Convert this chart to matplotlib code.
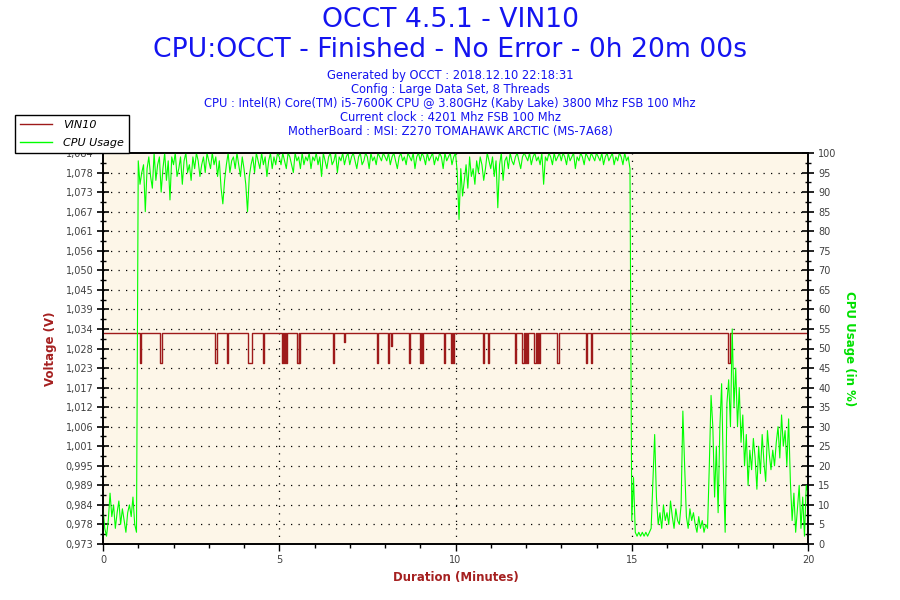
import numpy as np
import matplotlib.pyplot as plt
from matplotlib.ticker import FixedLocator, MultipleLocator, FuncFormatter

title_1 = "OCCT 4.5.1 - VIN10"
title_2 = "CPU:OCCT - Finished - No Error - 0h 20m 00s"
info_lines = [
    "Generated by OCCT : 2018.12.10 22:18:31",
    "Config : Large Data Set, 8 Threads",
    "CPU : Intel(R) Core(TM) i5-7600K CPU @ 3.80GHz (Kaby Lake) 3800 Mhz FSB 100 Mhz",
    "Current clock : 4201 Mhz FSB 100 Mhz",
    "MotherBoard : MSI: Z270 TOMAHAWK ARCTIC (MS-7A68)",
]

# CPU usage (%), one sample every 3 s -> 20 samples per minute
sample_step = 0.05
cpu_usage = [
    9, 4, 2, 6, 13, 7, 10, 4, 8, 11, 5, 9, 6, 3, 8, 10, 7, 12, 5, 3,
    98, 92, 95, 97, 85, 96, 99, 94, 91, 100, 93, 97, 99, 90, 96, 100, 93, 98, 88, 99,
    97, 100, 94, 96, 99, 92, 98, 100, 95, 97, 93, 99, 96, 100, 98, 94, 97, 99, 95, 100,
    98, 96, 100, 97, 99, 94, 98, 91, 87, 93, 97, 100, 95, 98, 99, 96, 100, 97, 94, 99,
    96, 92, 85, 94, 97, 99, 95, 100, 98, 96, 100, 97, 99, 94, 98, 100, 96, 99, 97, 100,
    99, 97, 100, 98, 96, 100, 99, 97, 95, 100, 98, 99, 96, 100, 97, 99, 98, 100, 96, 99,
    98, 100, 97, 99, 94, 100, 98, 96, 99, 100, 97, 98, 100, 95, 99, 98, 100, 97, 99, 100,
    97, 99, 100, 98, 96, 99, 100, 97, 98, 100, 99, 96, 100, 98, 99, 97, 100, 99, 98, 100,
    99, 98, 100, 97, 99, 100, 98, 96, 99, 100, 98, 99, 97, 100, 99, 98, 100, 96, 99, 100,
    98, 100, 99, 97, 100, 98, 99, 100, 97, 99, 98, 100, 99, 96, 100, 98, 99, 100, 97, 99,
    100, 95, 83, 96, 89, 93, 97, 91, 99, 94, 96, 92, 98, 95, 99, 97, 93, 96, 100, 98,
    96, 99, 94, 98, 86, 97, 100, 93, 98, 99, 96, 100, 98, 97, 99, 100, 98, 96, 99, 100,
    99, 98, 100, 97, 99, 100, 98, 99, 97, 100, 92, 99, 98, 100, 99, 97, 100, 98, 99, 100,
    98, 100, 99, 97, 100, 98, 99, 100, 96, 99, 98, 100, 99, 97, 100, 99, 98, 100, 99, 98,
    100, 99, 98, 100, 97, 99, 100, 98, 99, 100, 97, 99, 98, 100, 99, 97, 100, 98, 99, 96,
    6, 17, 3, 2, 3, 2, 3, 2, 3, 2, 3, 4, 16, 28, 12, 5, 8, 4, 10, 6,
    8, 5, 11, 7, 4, 9, 6, 5, 10, 34, 20, 7, 4, 9, 6, 8, 5, 3, 7, 4,
    6, 3, 5, 4, 20, 38, 30, 12, 25, 8, 30, 41, 18, 3, 36, 42, 30, 55, 35, 45,
    30, 40, 26, 33, 20, 28, 15, 24, 19, 27, 22, 14, 25, 18, 28, 21, 16, 29, 23, 19,
    24, 20, 26, 30, 22, 33, 25, 29, 20, 32, 16, 6, 13, 3, 9, 15, 4, 12, 2, 15,
    13,
]

# VIN10 voltage: flat level with short drops (start, end in minutes, level in V)
vin_base = 1.0325
dip_start = [1.05, 1.61, 3.19, 3.53, 4.12, 4.54, 5.08, 5.14, 5.20, 5.51, 5.57, 6.52,
             6.84, 7.78, 8.08, 8.18, 8.69, 9.00, 9.05, 9.67, 9.86, 9.92, 10.79, 10.92,
             11.70, 11.90, 11.96, 12.02, 12.24, 12.31, 12.38, 12.88, 13.69, 13.84, 17.73]
dip_end = [1.09, 1.67, 3.22, 3.55, 4.22, 4.56, 5.11, 5.17, 5.22, 5.55, 5.60, 6.54,
           6.86, 7.80, 8.10, 8.20, 8.71, 9.03, 9.07, 9.69, 9.89, 9.96, 10.81, 10.94,
           11.72, 11.93, 11.99, 12.05, 12.27, 12.33, 12.41, 12.93, 13.74, 13.86, 17.78]
dip_level = [1.024, 1.024, 1.024, 1.024, 1.024, 1.024, 1.024, 1.024, 1.024, 1.024, 1.024, 1.024,
             1.030, 1.024, 1.024, 1.029, 1.024, 1.024, 1.024, 1.024, 1.024, 1.024, 1.024, 1.024,
             1.024, 1.024, 1.024, 1.024, 1.024, 1.024, 1.024, 1.024, 1.024, 1.024, 1.024]

# left axis range as OCCT scales it (20 equal steps)
v_min, v_step = 0.97286, 0.005537
v_max = v_min + 20 * v_step

cpu_t = np.arange(len(cpu_usage)) * sample_step
vin_t = [0.0]
vin_v = [vin_base]
for s, e, lv in zip(dip_start, dip_end, dip_level):
    vin_t += [s, e]
    vin_v += [lv, vin_base]
vin_t.append(20.0)
vin_v.append(vin_base)

red = '#9e1a1a'
green = '#00ff00'
blue = '#1414f0'
tick_col = '#404040'

fig = plt.figure(figsize=(9, 6), dpi=100)
fig.patch.set_facecolor('white')
ax = fig.add_axes([103 / 900, 1 - 544 / 600, 705 / 900, 391 / 600])
ax.set_facecolor('#fdf6e8')

l_vin, = ax.plot(vin_t, vin_v, color=red, lw=1.0, drawstyle='steps-post', label='VIN10')
ax.set_xlim(0, 20)
ax.set_ylim(v_min, v_max)

ax2 = ax.twinx()
l_cpu, = ax2.plot(cpu_t, cpu_usage, color=green, lw=0.8, label='CPU Usage')
ax2.set_ylim(0, 100)

# ticks
v_ticks = v_min + np.arange(21) * v_step
ax.yaxis.set_major_locator(FixedLocator(v_ticks))
ax.yaxis.set_minor_locator(FixedLocator(v_ticks[:-1] + v_step / 2))
ax.yaxis.set_major_formatter(FuncFormatter(lambda v, p: f'{v:.3f}'.replace('.', ',')))
ax.xaxis.set_major_locator(MultipleLocator(5))
ax.xaxis.set_minor_locator(MultipleLocator(1))
ax2.yaxis.set_major_locator(MultipleLocator(5))
ax2.yaxis.set_minor_locator(MultipleLocator(2.5))

ax.tick_params(axis='y', which='major', direction='inout', length=8, width=1.2,
               labelsize=7, labelcolor=tick_col, pad=3)
ax.tick_params(axis='y', which='minor', direction='inout', length=5, width=1)
ax.tick_params(axis='x', which='major', direction='out', length=5, width=1,
               labelsize=7, labelcolor=tick_col, pad=3)
ax.tick_params(axis='x', which='minor', direction='out', length=3, width=1)
ax2.tick_params(axis='y', which='major', direction='inout', length=9, width=1.2,
                labelsize=7, labelcolor=tick_col, pad=3)
ax2.tick_params(axis='y', which='minor', direction='inout', length=5, width=1)

# dotted grid
for y in v_ticks[1:-1]:
    ax.axhline(y, color='black', lw=0.9, ls=(0, (1, 5)), zorder=0.5)
for x in [5, 10, 15]:
    ax.axvline(x, color='black', lw=0.9, ls=(0, (1, 5)), zorder=0.5)

for sp in ax.spines.values():
    sp.set_linewidth(1.2)
for sp in ax2.spines.values():
    sp.set_linewidth(1.2)

ax.set_xlabel('Duration (Minutes)', color='#a52020', fontsize=8.5, fontweight='bold', labelpad=4)
ax.set_ylabel('Voltage (V)', color='#a52020', fontsize=8.5, fontweight='bold', labelpad=6)
ax2.set_ylabel('CPU Usage (in %)', color='#00e000', fontsize=8.5, fontweight='bold',
               rotation=270, labelpad=14)

# header
fig.text(0.5, 1 - 20 / 600, title_1, ha='center', va='center', fontsize=19.2, color=blue)
fig.text(0.5, 1 - 50 / 600, title_2, ha='center', va='center', fontsize=19.2, color=blue)
for i, line in enumerate(info_lines):
    fig.text(0.5, 1 - (76 + i * 13.8) / 600, line, ha='center', va='center',
             fontsize=8.3, color=blue)

leg = fig.legend(handles=[l_vin, l_cpu], loc='upper left',
                 bbox_to_anchor=(15 / 900, 1 - 115 / 600), fancybox=False,
                 edgecolor='black', framealpha=1, borderaxespad=0,
                 prop={'size': 8, 'style': 'italic'}, handlelength=2.9,
                 handletextpad=1.0, borderpad=0.45, labelspacing=0.75)
leg.get_frame().set_linewidth(1.0)
for h in leg.get_lines():
    h.set_linewidth(1.0)

fig.savefig('out.png', dpi=100)
